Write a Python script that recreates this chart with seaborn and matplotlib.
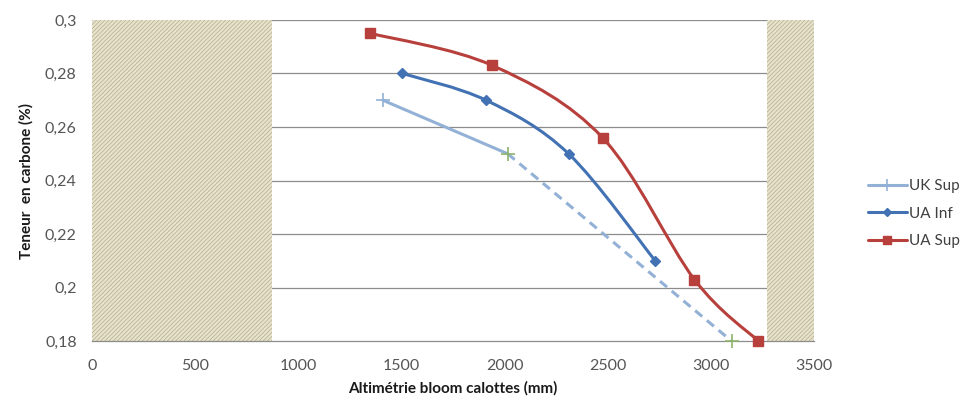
import numpy as np
import matplotlib
matplotlib.use("Agg")
import matplotlib.pyplot as plt
import seaborn as sns
from matplotlib.path import Path
from matplotlib.patches import PathPatch
from matplotlib.lines import Line2D

sns.set_theme(style="white")
plt.rcParams['font.family'] = ['Lato', 'DejaVu Sans']
plt.rcParams['hatch.linewidth'] = 0.5

# data
uk_sup_x = [1410, 2015, 3100]
uk_sup_y = [0.270, 0.250, 0.180]
ua_inf_x = [1505, 1910, 2310, 2730]
ua_inf_y = [0.280, 0.270, 0.250, 0.210]
ua_sup_x = [1350, 1940, 2475, 2920, 3230]
ua_sup_y = [0.295, 0.283, 0.256, 0.203, 0.180]

# zones hachurées
zone_left = (0, 875)
zone_right = (3270, 3500)

x_ticks = [0, 500, 1000, 1500, 2000, 2500, 3000, 3500]
y_ticks = [0.18, 0.20, 0.22, 0.24, 0.26, 0.28, 0.30]
y_labels = ['0,18', '0,2', '0,22', '0,24', '0,26', '0,28', '0,3']

c_uk = '#93b1d6'
c_inf = '#4372b4'
c_sup = '#b8403c'


def smooth_path(x, y):
    # courbe lissée façon Excel (Catmull-Rom -> Bézier)
    pts = np.column_stack([x, y]).astype(float)
    verts = [pts[0]]
    codes = [Path.MOVETO]
    n = len(pts)
    for i in range(n - 1):
        p0 = pts[i - 1] if i > 0 else pts[i]
        p1 = pts[i]
        p2 = pts[i + 1]
        p3 = pts[i + 2] if i + 2 < n else pts[i + 1]
        c1 = p1 + (p2 - p0) / 6.0
        c2 = p2 - (p3 - p1) / 6.0
        verts += [c1, c2, p2]
        codes += [Path.CURVE4] * 3
    return Path(verts, codes)


fig = plt.figure(figsize=(9.68, 4.07), dpi=100)
ax = fig.add_axes([0.095, 0.162, 0.746, 0.789])

ax.set_xlim(0, 3500)
ax.set_ylim(0.18, 0.30)

for y in y_ticks[1:]:
    ax.axhline(y, color='#8c8c8c', lw=0.9, zorder=1)

for a, b in [zone_left, zone_right]:
    ax.axvspan(a, b, facecolor='#e6e2cc', edgecolor='#b3ad8e', hatch='////////', lw=0, zorder=2)

ax.add_patch(PathPatch(smooth_path(ua_sup_x, ua_sup_y), fill=False, color=c_sup, lw=2.2, zorder=3))
ax.add_patch(PathPatch(smooth_path(ua_inf_x, ua_inf_y), fill=False, color=c_inf, lw=2.2, zorder=3))

sns.lineplot(x=uk_sup_x[:2], y=uk_sup_y[:2], ax=ax, color=c_uk, lw=2.2, zorder=3)
ax.plot(uk_sup_x[1:], uk_sup_y[1:], color=c_uk, lw=2.2, ls=(0, (3, 2)), zorder=3)

ax.plot(ua_sup_x, ua_sup_y, ls='none', marker='s', ms=6.5, color=c_sup, zorder=4, clip_on=False)
ax.plot(ua_inf_x, ua_inf_y, ls='none', marker='D', ms=5, color=c_inf, zorder=4)
ax.plot(uk_sup_x[:1], uk_sup_y[:1], ls='none', marker='+', ms=10, mew=1.2, color=c_uk, zorder=4)
ax.plot(uk_sup_x[1:], uk_sup_y[1:], ls='none', marker='+', ms=10, mew=1.2, color='#8db46a', zorder=4, clip_on=False)

ax.set_xticks(x_ticks)
ax.set_yticks(y_ticks)
ax.set_yticklabels(y_labels)
ax.tick_params(axis='both', labelsize=11.5, length=5, width=0.8)
ax.tick_params(axis='x', direction='out', color='#8c8c8c', labelcolor='#555555', pad=8)
ax.tick_params(axis='y', direction='out', color='#8c8c8c', labelcolor='#555555', pad=6)

for s in ['top', 'right', 'left']:
    ax.spines[s].set_visible(False)
ax.spines['bottom'].set_color('#8c8c8c')
ax.spines['bottom'].set_linewidth(0.9)

ax.set_xlabel('Altimétrie bloom calottes (mm)', fontsize=11, fontweight='bold', color='#1a1a1a', labelpad=6)
ax.set_ylabel('Teneur  en carbone (%)', fontsize=11, fontweight='bold', color='#1a1a1a', labelpad=8)

handles = [
    Line2D([], [], color=c_uk, lw=2.2, marker='+', ms=9, mew=1.2),
    Line2D([], [], color=c_inf, lw=2.2, marker='D', ms=4.5),
    Line2D([], [], color=c_sup, lw=2.2, marker='s', ms=6),
]
fig.legend(handles, ['UK Sup', 'UA Inf', 'UA Sup'], loc='center left',
           bbox_to_anchor=(0.882, 0.475), frameon=False, fontsize=11,
           handlelength=2.6, handletextpad=0.1, labelspacing=0.9, labelcolor='#404040')

fig.savefig('out.png', dpi=100)
